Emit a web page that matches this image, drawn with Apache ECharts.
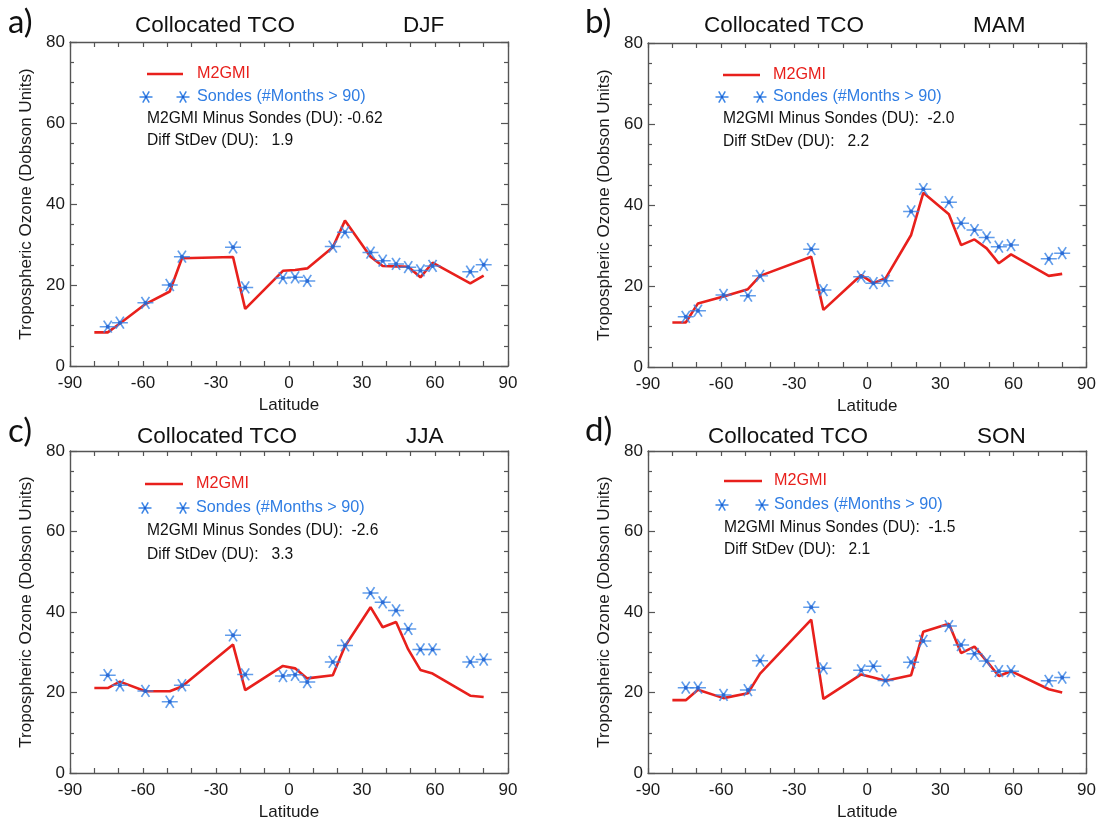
<!DOCTYPE html>
<html>
<head>
<meta charset="utf-8">
<script src="https://cdn.jsdelivr.net/npm/echarts@6/dist/echarts.min.js"></script>
<style>
html,body{margin:0;padding:0;background:#fff;}
#chart{width:1099px;height:822px;}
</style>
</head>
<body>
<div id="chart"></div>
<script>
// ---- data ----
const sondeLat = [-74.5, -69.5, -59, -49, -44, -23, -18, -2.5, 2.5, 7.5, 18, 23, 33.5, 38.5, 44, 49, 54, 59, 74.5, 80];
const modelLat = [-80, -74.5, -69.5, -59, -49, -44, -23, -18, -2.5, 2.5, 7.5, 18, 23, 33.5, 38.5, 44, 49, 54, 59, 74.5, 80];

const djfModel = [8.3, 8.3, 10.5, 15.3, 18.4, 26.6, 26.9, 14.1, 23.5, 23.7, 24.1, 29.3, 35.9, 27.0, 24.7, 24.6, 24.5, 21.9, 25.5, 20.4, 22.3];
const djfSonde = [9.7, 10.7, 15.6, 20.0, 27.0, 29.3, 19.4, 21.7, 21.9, 21.0, 29.5, 33.0, 28.0, 26.0, 25.2, 24.4, 23.6, 24.7, 23.3, 25.0];

const mamModel = [11.0, 11.0, 15.7, 17.4, 19.2, 22.5, 27.2, 14.1, 22.7, 20.7, 21.9, 32.6, 43.0, 37.7, 30.1, 31.5, 29.3, 25.6, 27.8, 22.5, 23.0];
const mamSonde = [12.4, 13.9, 17.8, 17.6, 22.5, 29.1, 19.0, 22.3, 20.7, 21.3, 38.4, 43.9, 40.7, 35.5, 33.8, 32.0, 29.7, 30.1, 26.7, 28.1];

const jjaModel = [21.1, 21.1, 22.7, 20.3, 20.3, 21.5, 31.9, 20.6, 26.6, 26.0, 23.5, 24.3, 31.5, 41.2, 36.2, 37.5, 30.7, 25.6, 24.7, 19.2, 18.9];
const jjaSonde = [24.3, 21.8, 20.4, 17.7, 21.8, 34.2, 24.5, 24.1, 24.4, 22.6, 27.6, 31.7, 44.7, 42.4, 40.4, 35.8, 30.7, 30.7, 27.6, 28.2];

const sonModel = [18.1, 18.1, 20.7, 18.6, 19.8, 24.7, 38.1, 18.4, 24.5, 23.7, 22.9, 24.3, 35.1, 37.1, 29.8, 31.4, 27.8, 24.1, 25.3, 20.8, 20.0];
const sonSonde = [21.2, 21.2, 19.4, 20.6, 27.9, 41.2, 26.0, 25.5, 26.5, 23.0, 27.5, 32.8, 36.5, 31.8, 29.6, 27.8, 25.3, 25.3, 22.9, 23.7];

const panelLetters = ['a)', 'b)', 'c)', 'd)'];
const seasons = ['DJF', 'MAM', 'JJA', 'SON'];
const meanDiff = ['-0.62', ' -2.0', ' -2.6', ' -1.5'];
const stdDiff = ['1.9', '2.2', '3.3', '2.1'];
const xTicks = [-90, -60, -30, 0, 30, 60, 90];
const yTicks = [0, 20, 40, 60, 80];

const models = [djfModel, mamModel, jjaModel, sonModel];
const sondes = [djfSonde, mamSonde, jjaSonde, sonSonde];

// ---- layout ----
const grids = [
  {left: 70, top: 42, width: 438, height: 324},
  {left: 648, top: 43, width: 439, height: 324},
  {left: 70, top: 451, width: 438, height: 324},
  {left: 648, top: 451, width: 440, height: 325}
];
const txt = [
  {letter:[8,22], title:[135,26], season:[403,26], line:[147,183,74], stars:[146,183,97], lx:197, rows:[147,119,141]},
  {letter:[585,22], title:[704,26], season:[973,26], line:[723,760,75], stars:[722,760,97], lx:773, rows:[723,119,142]},
  {letter:[8,431], title:[137,437], season:[406,437], line:[145,183,484], stars:[145,183,508], lx:196, rows:[147,531,555]},
  {letter:[585,430], title:[708,437], season:[977,437], line:[724,762,481], stars:[722,762,505], lx:774, rows:[724,528,550]}
];

const RED = '#e8201c';
const BLUE = '#3a84e6';
const AX = '#555555';
const FONT = '"Liberation Sans", Arial, Helvetica, sans-serif';
const STAR = 'path://M-10,0L10,0M-5,-8.66L5,8.66M-5,8.66L5,-8.66';

const option = {
  backgroundColor: '#fff',
  animation: false,
  grid: [], xAxis: [], yAxis: [], series: [], graphic: []
};

function starGraphic(cx, cy, r) {
  const c = [];
  for (let k = 0; k < 3; k++) {
    const a = k * Math.PI / 3;
    c.push({type: 'line', shape: {x1: cx - r * Math.cos(a), y1: cy - r * Math.sin(a), x2: cx + r * Math.cos(a), y2: cy + r * Math.sin(a)},
      style: {stroke: BLUE, lineWidth: 1.5}});
  }
  c.push({type: 'circle', shape: {cx: cx, cy: cy, r: 1.3}, style: {fill: '#1f5fd0'}});
  return {type: 'group', children: c};
}
function text(x, y, s, size, color, family) {
  return {type: 'text', x: x, y: y, style: {text: s, fontSize: size, fontFamily: family || FONT, fill: color, verticalAlign: 'middle', align: 'left'}};
}

for (let i = 0; i < 4; i++) {
  const g = grids[i];
  option.grid.push({left: g.left, top: g.top, width: g.width, height: g.height, containLabel: false});
  const xBase = {
    type: 'value', gridIndex: i, min: -90, max: 90, interval: 30,
    axisLine: {show: true, onZero: false, lineStyle: {color: AX, width: 1.4}},
    axisTick: {show: true, inside: true, length: 5, lineStyle: {color: AX, width: 1.2}},
    minorTick: {show: true, splitNumber: 3, length: 5, lineStyle: {color: AX, width: 1.2}},
    splitLine: {show: false}
  };
  option.xAxis.push(Object.assign({}, xBase, {
    position: 'bottom',
    name: 'Latitude', nameLocation: 'middle', nameGap: 31,
    nameTextStyle: {fontSize: 17, color: '#1a1a1a', fontFamily: FONT},
    axisLabel: {show: true, fontSize: 17, color: '#1a1a1a', fontFamily: FONT, margin: 9,
      customValues: xTicks}
  }));
  option.xAxis.push(Object.assign({}, xBase, {position: 'top', axisLabel: {show: false}}));
  const yBase = {
    type: 'value', gridIndex: i, min: 0, max: 80, interval: 20,
    axisLine: {show: true, onZero: false, lineStyle: {color: AX, width: 1.4}},
    axisTick: {show: true, inside: true, length: 7, lineStyle: {color: AX, width: 1.2}},
    minorTick: {show: true, splitNumber: 4, length: 4, lineStyle: {color: AX, width: 1.2}},
    splitLine: {show: false}
  };
  option.yAxis.push(Object.assign({}, yBase, {
    position: 'left',
    name: 'Tropospheric Ozone (Dobson Units)', nameLocation: 'middle', nameGap: 35,
    nameTextStyle: {fontSize: 17, color: '#1a1a1a', fontFamily: FONT},
    axisLabel: {show: true, fontSize: 17, color: '#1a1a1a', fontFamily: FONT, margin: 5, customValues: yTicks}
  }));
  option.yAxis.push(Object.assign({}, yBase, {position: 'right', axisLabel: {show: false}}));

  option.series.push({
    type: 'line', name: 'M2GMI', xAxisIndex: 2 * i, yAxisIndex: 2 * i,
    data: modelLat.map((la, k) => [la, models[i][k]]),
    showSymbol: false, symbol: 'none', lineStyle: {color: RED, width: 2.6}, z: 3
  });
  option.series.push({
    type: 'scatter', name: 'Sondes', xAxisIndex: 2 * i, yAxisIndex: 2 * i,
    data: sondeLat.map((la, k) => [la, sondes[i][k]]),
    symbol: STAR, symbolSize: [16, 13.9], symbolKeepAspect: true,
    itemStyle: {color: 'rgba(0,0,0,0)', borderColor: BLUE, borderWidth: 1.6}, z: 4
  });
  option.series.push({
    type: 'scatter', name: 'SondesDot', xAxisIndex: 2 * i, yAxisIndex: 2 * i,
    data: sondeLat.map((la, k) => [la, sondes[i][k]]),
    symbol: 'circle', symbolSize: 4, itemStyle: {color: '#1f5fd0'}, z: 5, silent: true
  });

  const t = txt[i];
  option.graphic.push(text(t.letter[0], t.letter[1], panelLetters[i], 33, '#111', 'Lato, "Open Sans", sans-serif'));
  option.graphic.push(text(t.title[0], t.title[1], 'Collocated TCO', 22.5, '#111'));
  option.graphic.push(text(t.season[0], t.season[1], seasons[i], 22.5, '#111'));
  option.graphic.push({type: 'line', shape: {x1: t.line[0], y1: t.line[2], x2: t.line[1], y2: t.line[2]}, style: {stroke: RED, lineWidth: 2.4}});
  option.graphic.push(text(t.lx, t.line[2], 'M2GMI', 16.2, RED));
  option.graphic.push(starGraphic(t.stars[0], t.stars[2], 6.5));
  option.graphic.push(starGraphic(t.stars[1], t.stars[2], 6.5));
  option.graphic.push(text(t.lx, t.stars[2], 'Sondes (#Months > 90)', 16.2, '#2f7de3'));
  option.graphic.push(text(t.rows[0], t.rows[1], 'M2GMI Minus Sondes (DU): ' + meanDiff[i], 15.6, '#111'));
  option.graphic.push(text(t.rows[0], t.rows[2], 'Diff StDev (DU):   ' + stdDiff[i], 15.6, '#111'));
}

const chart = echarts.init(document.getElementById('chart'), null, {renderer: 'canvas'});
chart.setOption(option);
</script>
</body>
</html>
